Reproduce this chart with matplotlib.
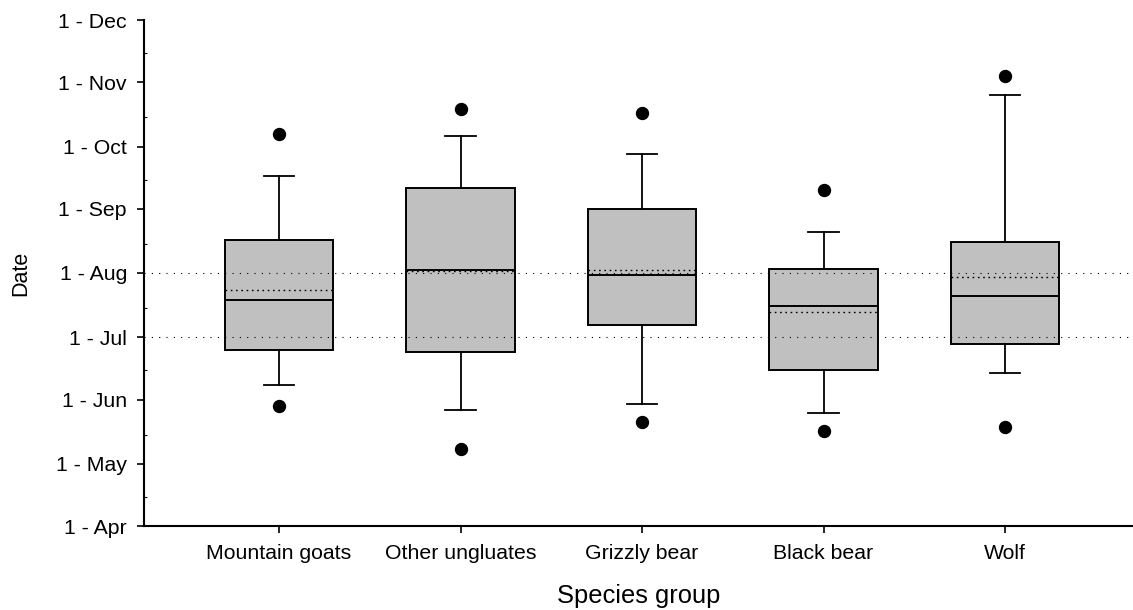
import matplotlib
matplotlib.use("Agg")
import matplotlib.pyplot as plt
from matplotlib.ticker import FixedLocator

plt.rcParams['font.family'] = ['Liberation Sans', 'DejaVu Sans']

# Species groups and seasonal timing (day of year)
species = ["Mountain goats", "Other ungluates", "Grizzly bear", "Black bear", "Wolf"]
p5 = [149, 128, 141, 137, 138.5]
p10 = [159, 147, 150, 145.5, 165]
q1 = [176, 175, 188, 166, 179]
median = [200, 214.5, 212, 197, 202]
mean = [205, 214.2, 214.5, 194, 211]
q3 = [229, 254, 244, 215, 228]
p90 = [260, 279, 270.5, 233, 299]
p95 = [280, 292, 290, 253, 308]

# Month tick positions (day of year, non-leap year)
month_days = [91, 121, 152, 182, 213, 244, 274, 305, 335]
month_labels = ["1 - Apr", "1 - May", "1 - Jun", "1 - Jul", "1 - Aug",
                "1 - Sep", "1 - Oct", "1 - Nov", "1 - Dec"]
mid_month_days = [105, 135, 166, 196, 227, 258, 288, 319]
reference_days = [182, 213]

fig = plt.figure(figsize=(11.33, 6.10), dpi=100)
ax = fig.add_axes([144 / 1133, 84 / 610, (1133 - 144) / 1133, 506 / 610])

stats = []
for i, name in enumerate(species):
    stats.append(dict(label=name, whislo=p10[i], q1=q1[i], med=median[i],
                      mean=mean[i], q3=q3[i], whishi=p90[i],
                      fliers=[p5[i], p95[i]]))

positions = list(range(1, len(species) + 1))
ax.bxp(stats, positions=positions, widths=0.6, capwidths=0.17,
       patch_artist=True, showmeans=True, meanline=True,
       boxprops=dict(facecolor="#c0c0c0", edgecolor="black", linewidth=1.4),
       medianprops=dict(color="black", linewidth=1.4),
       meanprops=dict(color="black", linewidth=1.0, linestyle=(0, (1.2, 2.6))),
       whiskerprops=dict(color="black", linewidth=1.3),
       capprops=dict(color="black", linewidth=1.3),
       flierprops=dict(marker="o", markerfacecolor="black",
                       markeredgecolor="black", markersize=8.6),
       zorder=2)

for d in reference_days:
    ax.axhline(d, color="black", linewidth=0.8, linestyle=(0, (1, 5.6)), zorder=3)

ax.set_xlim(0.256, 5.705)
ax.set_ylim(91, 335)
ax.set_yticks(month_days)
ax.set_yticklabels(month_labels)
ax.yaxis.set_minor_locator(FixedLocator(mid_month_days))
ax.set_xticks(positions)
ax.set_xticklabels(species)

for s in ("top", "right"):
    ax.spines[s].set_visible(False)
for s in ("left", "bottom"):
    ax.spines[s].set_linewidth(1.5)

ax.tick_params(axis="y", which="major", direction="out", length=5.3, width=1.2,
               pad=7, labelsize=15.3)
ax.tick_params(axis="y", which="minor", direction="in", length=2.5, width=0.8)
ax.tick_params(axis="x", which="major", direction="out", length=5, width=1.2,
               pad=8, labelsize=15.3)

ax.set_xlabel("Species group", fontsize=18.4, labelpad=15)
ax.set_ylabel("Date", fontsize=15.5, labelpad=18)

fig.savefig("out.png", dpi=100)
